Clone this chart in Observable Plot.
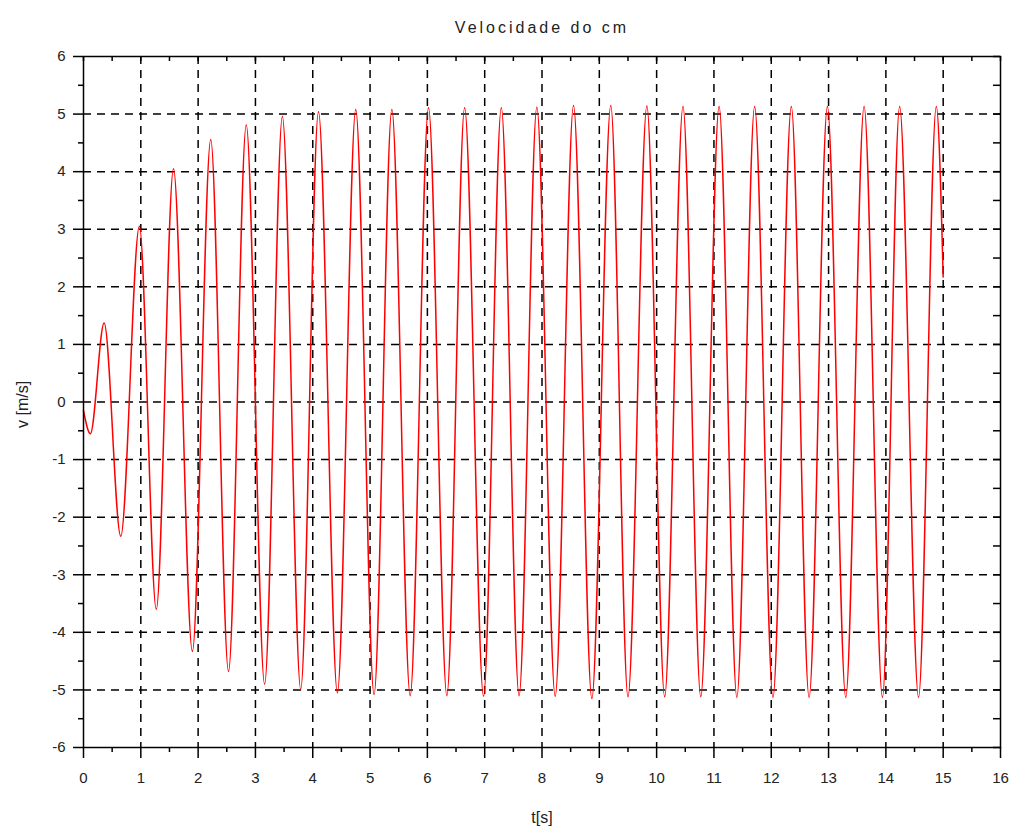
<!DOCTYPE html>
<html>
<head>
<meta charset="utf-8">
<script src="https://cdn.jsdelivr.net/npm/d3@7"></script>
<script src="https://cdn.jsdelivr.net/npm/@observablehq/plot@0.6"></script>
<style>
  html, body { margin: 0; padding: 0; background: #fff; }
  svg { display: block; }
</style>
</head>
<body>
<div id="chart"></div>
<script>
// Extrema (time in s, velocity in m/s)
const tValues = [0, 0.12, 0.36, 0.65, 0.975, 1.27, 1.57, 1.90, 2.22, 2.53, 2.84, 3.16, 3.47, 3.79, 4.10, 4.43,
  4.75, 5.07, 5.38, 5.70, 6.02, 6.34, 6.65, 6.98, 7.29, 7.60, 7.91, 8.23, 8.55, 8.87, 9.20, 9.50, 9.83,
  10.14, 10.46, 10.77, 11.09, 11.40, 11.71, 12.03, 12.35, 12.66, 12.98, 13.30, 13.62, 13.94, 14.24, 14.57, 14.88, 15.0];
const vValues = [-0.15, -0.55, 1.37, -2.33, 3.05, -3.6, 4.05, -4.33, 4.56, -4.68, 4.81, -4.9, 4.96, -4.99, 5.04, -5.05,
  5.08, -5.08, 5.08, -5.1, 5.11, -5.1, 5.11, -5.11, 5.11, -5.1, 5.12, -5.11, 5.15, -5.15, 5.15, -5.12, 5.14,
  -5.12, 5.13, -5.12, 5.13, -5.13, 5.13, -5.13, 5.13, -5.13, 5.13, -5.13, 5.13, -5.13, 5.13, -5.13, 5.13, 2.17];

const xTicks = [0,1,2,3,4,5,6,7,8,9,10,11,12,13,14,15,16];
const yTicks = [-6,-5,-4,-3,-2,-1,0,1,2,3,4,5,6];
const xMinor = [0.5,1.5,2.5,3.5,4.5,5.5,6.5,7.5,8.5,9.5,10.5,11.5,12.5,13.5,14.5,15.5];
const yMinor = [-5.5,-4.5,-3.5,-2.5,-1.5,-0.5,0.5,1.5,2.5,3.5,4.5,5.5];
const titleText = "Velocidade do cm";
const xLabel = "t[s]";
const yLabel = "v [m/s]";

const data = tValues.map((t, i) => ({t, v: vValues[i]}));

const W = 1014, H = 830;
const mL = 83, mR = 14, mT = 56, mB = 83;
const fw = W - mL - mR, fh = H - mT - mB;
const font = "'Liberation Sans', Arial, sans-serif";
const fmt = d => String(d);

const chart = Plot.plot({
  width: W, height: H,
  marginLeft: mL, marginRight: mR, marginTop: mT, marginBottom: mB,
  style: {fontFamily: font, fontSize: "15px", color: "#222", background: "#fff"},
  x: {domain: [0, 16]},
  y: {domain: [-6, 6]},
  marks: [
    Plot.ruleX(xTicks.slice(1, -1), {stroke: "#000", strokeWidth: 1.5, strokeDasharray: "8,6"}),
    Plot.ruleY(yTicks.slice(1, -1), {stroke: "#000", strokeWidth: 1.5, strokeDasharray: "8,6"}),
    Plot.line(data, {x: "t", y: "v", stroke: "#ff0000", strokeWidth: 1.5, curve: "monotone-x"}),
    Plot.frame({stroke: "#000", strokeWidth: 1.5}),
    Plot.axisX({ticks: xTicks, tickSize: 11, tickPadding: 14, tickFormat: fmt, label: null, stroke: "#000", strokeWidth: 1.5, fontSize: 15}),
    Plot.axisX({ticks: xMinor, tickSize: 5, tickFormat: () => "", label: null, stroke: "#000", strokeWidth: 1.5}),
    Plot.axisY({ticks: yTicks, tickSize: 10, tickPadding: 8, tickFormat: fmt, label: null, stroke: "#000", strokeWidth: 1.5, fontSize: 15}),
    Plot.axisY({ticks: yMinor, tickSize: 5, tickFormat: () => "", label: null, stroke: "#000", strokeWidth: 1.5}),
    Plot.tickX(xTicks.concat(xMinor), {x: d => d, insetBottom: fh - 5, stroke: "#000", strokeWidth: 1.5}),
    Plot.tickY(yTicks.concat(yMinor), {y: d => d, insetLeft: fw - 7, stroke: "#000", strokeWidth: 1.5}),
    Plot.text([titleText], {frameAnchor: "top", lineAnchor: "middle", dy: -29, fontSize: 16, fill: "#222", text: d => d}),
    Plot.text([xLabel], {frameAnchor: "bottom", lineAnchor: "middle", dy: 70, fontSize: 16, fill: "#222", text: d => d}),
    Plot.text([yLabel], {frameAnchor: "left", dx: -61, dy: 26, rotate: -90, fontSize: 16, fill: "#222", text: d => d})
  ]
});
// widen the title's letter spacing as in the reference
chart.querySelectorAll("text").forEach(el => {
  if (el.textContent === titleText) el.setAttribute("letter-spacing", "3px");
});
document.getElementById("chart").appendChild(chart);
</script>
</body>
</html>
